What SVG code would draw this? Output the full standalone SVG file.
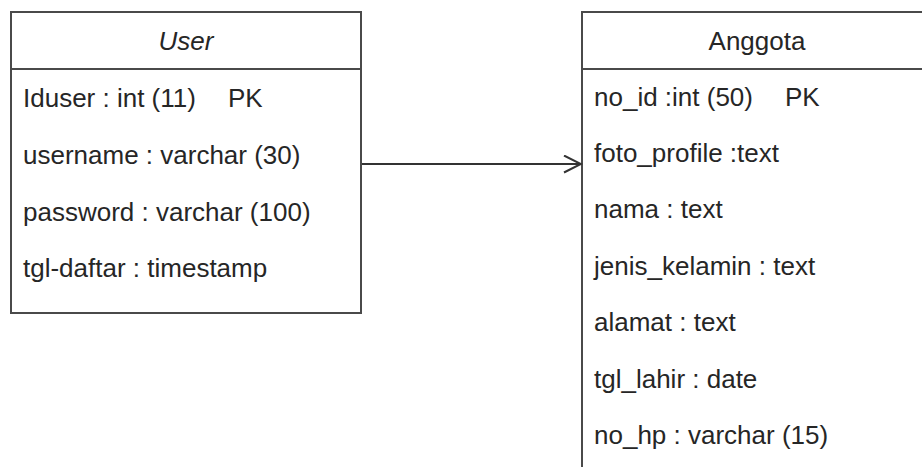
<svg xmlns="http://www.w3.org/2000/svg" width="922" height="467" viewBox="0 0 922 467">
  <style>
    .box { fill: #ffffff; stroke: #4a4a4a; stroke-width: 2; }
    .sep { stroke: #4a4a4a; stroke-width: 2; }
    .t { font-family: "Liberation Sans", Arial, sans-serif; font-size: 26px; fill: #262626; }
    .title { text-anchor: middle; }
    .edge { fill: none; stroke: #333333; stroke-width: 2; }
  </style>
  <defs>
    <marker id="open-arrow" markerWidth="20" markerHeight="20" refX="18" refY="9" orient="auto" markerUnits="userSpaceOnUse">
      <path d="M1,0.5 L18,9 L1,17.5" fill="none" stroke="#333333" stroke-width="2"/>
    </marker>
  </defs>
  <rect width="922" height="467" fill="#ffffff"/>

  <!-- User table -->
  <g id="user">
    <rect class="box" x="11" y="12" width="350" height="301"/>
    <line class="sep" x1="11" y1="69" x2="361" y2="69"/>
    <text class="t title" x="186" y="50" font-style="italic">User</text>
    <text class="t" x="23" y="107">Iduser : int (11)</text>
    <text class="t" x="228" y="107">PK</text>
    <text class="t" x="23" y="164">username : varchar (30)</text>
    <text class="t" x="23" y="220.5">password : varchar (100)</text>
    <text class="t" x="23" y="277">tgl-daftar : timestamp</text>
  </g>

  <!-- Anggota table (runs past the right and bottom edges) -->
  <g id="anggota">
    <rect class="box" x="582" y="12" width="350" height="480"/>
    <line class="sep" x1="582" y1="69" x2="932" y2="69"/>
    <text class="t title" x="757" y="50">Anggota</text>
    <text class="t" x="594" y="106">no_id :int (50)</text>
    <text class="t" x="785" y="106">PK</text>
    <text class="t" x="594" y="161.5">foto_profile :text</text>
    <text class="t" x="594" y="218">nama : text</text>
    <text class="t" x="594" y="274.5">jenis_kelamin : text</text>
    <text class="t" x="594" y="331">alamat : text</text>
    <text class="t" x="594" y="387.5">tgl_lahir : date</text>
    <text class="t" x="594" y="444">no_hp : varchar (15)</text>
  </g>

  <!-- Relations -->
  <g id="connectors">
    <line class="edge" x1="362" y1="164" x2="581" y2="164" marker-end="url(#open-arrow)"/>
  </g>
</svg>
